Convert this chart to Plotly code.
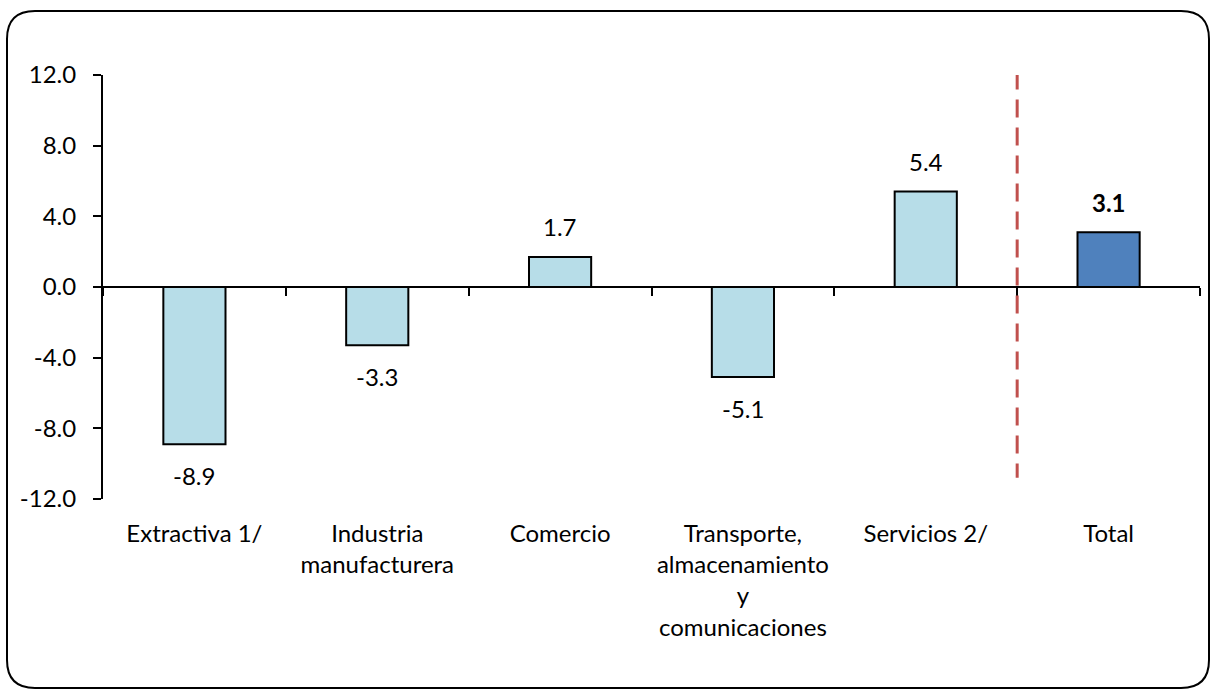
import plotly.graph_objects as go

categories = ["Extractiva 1/", "Industria<br>manufacturera", "Comercio",
              "Transporte,<br>almacenamiento<br>y<br>comunicaciones", "Servicios 2/", "Total"]
values = [-8.9, -3.3, 1.7, -5.1, 5.4, 3.1]
bar_colors = ["#B7DDE8"] * 5 + ["#4F81BD"]
labels = ["-8.9", "-3.3", "1.7", "-5.1", "5.4", "<b>3.1</b>"]
y_ticks = [-12, -8, -4, 0, 4, 8, 12]
y_ticktext = ["-12.0", "-8.0", "-4.0", "0.0", "4.0", "8.0", "12.0"]

W, H = 1215, 692
L, R, T, B = 103, 15, 75, 193
FONT = "Lato"
FS = 24

fig = go.Figure()
fig.add_trace(go.Bar(
    x=categories, y=values, marker=dict(color=bar_colors, line=dict(color="black", width=2)),
    width=0.34, hoverinfo="skip"))
# invisible trace on the zero-crossing axis
fig.add_trace(go.Scatter(x=categories, y=[None] * len(categories), xaxis="x2",
                         mode="markers", showlegend=False, hoverinfo="skip"))

for c, v, t in zip(categories, values, labels):
    fig.add_annotation(x=c, y=v, text=t, showarrow=False, yanchor="middle",
                       yshift=30 if v >= 0 else -31,
                       font=dict(size=FS, color="black", family=FONT))

# rounded outer border (pixel coords -> paper)
pw, ph = W - L - R, H - T - B
def px(x):
    return (x - L) / pw
def py(y):
    return (H - B - y) / ph
x0, y0, x1, y1, r = 7, 11, 1209, 688, 28
path = (f"M {px(x0 + r)},{py(y0)} L {px(x1 - r)},{py(y0)} Q {px(x1)},{py(y0)} {px(x1)},{py(y0 + r)} "
        f"L {px(x1)},{py(y1 - r)} Q {px(x1)},{py(y1)} {px(x1 - r)},{py(y1)} "
        f"L {px(x0 + r)},{py(y1)} Q {px(x0)},{py(y1)} {px(x0)},{py(y1 - r)} "
        f"L {px(x0)},{py(y0 + r)} Q {px(x0)},{py(y0)} {px(x0 + r)},{py(y0)} Z")
fig.add_shape(type="path", path=path, xref="paper", yref="paper",
              line=dict(color="black", width=2), layer="below")

# dashed separator between Servicios and Total
fig.add_shape(type="line", xref="x", yref="y", x0=4.5, x1=4.5, y0=12.2, y1=-10.8,
              line=dict(color="#C0504D", width=3, dash="18px,10px"))

fig.update_layout(
    width=W, height=H, margin=dict(l=L, r=R, t=T, b=B),
    plot_bgcolor="white", paper_bgcolor="white", showlegend=False,
    font=dict(family=FONT, size=FS, color="black"),
    xaxis=dict(type="category", showline=False, ticks="", showgrid=False, zeroline=False,
               tickfont=dict(size=FS), ticklabelstandoff=18, range=[-0.5, 5.5]),
    xaxis2=dict(type="category", overlaying="x", anchor="free", position=0.5, side="bottom",
                showline=True, linecolor="black", linewidth=2, ticks="outside", ticklen=8,
                tickwidth=2, tickcolor="black", tickson="boundaries", showticklabels=False,
                showgrid=False, zeroline=False, matches="x"),
    yaxis=dict(range=[-12, 12], tickvals=y_ticks, ticktext=y_ticktext, showline=True,
               linecolor="black", linewidth=2, ticks="outside", ticklen=8, tickwidth=2,
               tickcolor="black", showgrid=False, zeroline=False, tickfont=dict(size=FS),
               ticklabelstandoff=12),
)

fig.write_html("out.html", config={"displayModeBar": False},
               post_script="document.body.style.margin='0';")
